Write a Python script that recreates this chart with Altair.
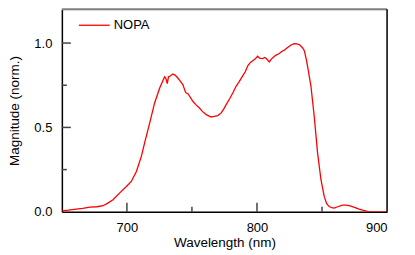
import altair as alt
import pandas as pd

wavelength = [650, 655, 661, 666, 671.5, 677, 681.7, 685, 689.3, 694.5, 699.6, 703.4, 707.3, 711.1,
              714, 717.5, 721.3, 725.2, 729, 730, 731, 732, 733, 735.4, 737, 739.2, 741, 743, 745,
              745.6, 747, 750.7, 753, 755.8, 758, 761, 764.8, 767, 769.9, 772.5, 774.5, 776.3, 779,
              781.4, 784, 786, 789, 791, 792.9, 795, 796.7, 798.5, 800.5, 802, 804.4, 806, 807,
              809.5, 811, 813.4, 815, 817.2, 819, 821, 823, 824.9, 826.5, 828.7, 830.5, 832.5, 835,
              836.4, 838, 838.9, 841.5, 844, 846.6, 849.2, 851.7, 853.5, 855.5, 857.5, 859.4, 862,
              865.7, 868, 870.9, 875, 878.5, 882, 885, 890, 895, 900]
magnitude = [0.006, 0.010, 0.016, 0.020, 0.028, 0.030, 0.036, 0.050, 0.071, 0.112, 0.150, 0.180, 0.239, 0.328,
             0.42, 0.526, 0.645, 0.734, 0.80, 0.79, 0.76, 0.80, 0.803, 0.817, 0.81, 0.793, 0.775, 0.754, 0.71,
             0.704, 0.70, 0.655, 0.635, 0.615, 0.595, 0.576, 0.562, 0.565, 0.57, 0.586, 0.61, 0.635, 0.67,
             0.704, 0.745, 0.767, 0.805, 0.83, 0.865, 0.885, 0.895, 0.905, 0.922, 0.91, 0.908, 0.915, 0.910,
             0.888, 0.905, 0.922, 0.93, 0.938, 0.95, 0.958, 0.97, 0.981, 0.99, 0.997, 0.995, 0.991, 0.972,
             0.955, 0.90, 0.862, 0.744, 0.566, 0.348, 0.19, 0.091, 0.05, 0.031, 0.024, 0.022, 0.03,
             0.040, 0.040, 0.036, 0.026, 0.016, 0.008, 0.003, 0.001, 0.0, 0.0]

x_labels = [700, 800, 900]
x_major_ticks = [700, 800]
x_minor_ticks = [750, 850]
y_labels = [0.0, 0.5, 1.0]
y_major_ticks = [0.5, 1.0]
y_minor_ticks = [0.25, 0.75]
series_name = "NOPA"

W, H = 326, 203
FONT = "Liberation Sans"

df = pd.DataFrame({"wl": wavelength, "mag": magnitude})
xs = alt.Scale(domain=[650, 900], nice=False, zero=False)
ys = alt.Scale(domain=[0, 1.2], nice=False)

line = alt.Chart(df).mark_line(color="#ff0000", strokeWidth=1.3, clip=True).encode(
    x=alt.X("wl:Q", scale=xs, title="Wavelength (nm)",
            axis=alt.Axis(values=x_labels, ticks=False, grid=False, domainColor="black",
                          domainWidth=1.5, labelPadding=10, titlePadding=1, labelFontSize=13,
                          titleFontSize=13.5, labelFont=FONT, titleFont=FONT, titleFontWeight="normal",
                          labelColor="black", titleColor="black")),
    y=alt.Y("mag:Q", scale=ys, title="Magnitude (norm.)",
            axis=alt.Axis(values=y_labels, format=".1f", ticks=False, grid=False, domainColor="black",
                          domainWidth=1.5, labelPadding=10, titlePadding=12, labelFontSize=13,
                          titleFontSize=13.5, labelFont=FONT, titleFont=FONT, titleFontWeight="normal",
                          labelColor="black", titleColor="black")),
)

def xticks(vals, length):
    return alt.Chart(pd.DataFrame({"v": vals})).mark_rule(color="#444", strokeWidth=1.5).encode(
        x=alt.X("v:Q", scale=xs), y=alt.value(H), y2=alt.value(H - length))

def yticks(vals, length):
    return alt.Chart(pd.DataFrame({"v": vals})).mark_rule(color="#444", strokeWidth=1.5).encode(
        y=alt.Y("v:Q", scale=ys), x=alt.value(0), x2=alt.value(length))

base = alt.Chart(pd.DataFrame({"a": [0]}))
top_border = base.mark_rule(color="#808080", strokeWidth=2).encode(
    x=alt.value(0), x2=alt.value(W), y=alt.value(0))
right_border = base.mark_rule(color="black", strokeWidth=1.5).encode(
    x=alt.value(W), y=alt.value(0), y2=alt.value(H))
legend_line = base.mark_rule(color="#ff0000", strokeWidth=1.3).encode(
    x=alt.value(17), x2=alt.value(48), y=alt.value(16))
legend_text = alt.Chart(pd.DataFrame({"t": [series_name]})).mark_text(
    align="left", baseline="middle", fontSize=13, font=FONT, color="black").encode(
    x=alt.value(52), y=alt.value(16), text="t:N")

chart = alt.layer(
    line, xticks(x_major_ticks, 9), xticks(x_minor_ticks, 5),
    yticks(y_major_ticks, 9), yticks(y_minor_ticks, 5),
    top_border, right_border, legend_line, legend_text
).properties(
    width=W, height=H,
    autosize=alt.AutoSizeParams(type="none"),
    padding={"left": 54, "top": 1, "right": 20, "bottom": 40},
).configure_view(stroke=None).configure(background="white")

chart.save("out.html", embed_options={"renderer": "svg", "actions": False})
